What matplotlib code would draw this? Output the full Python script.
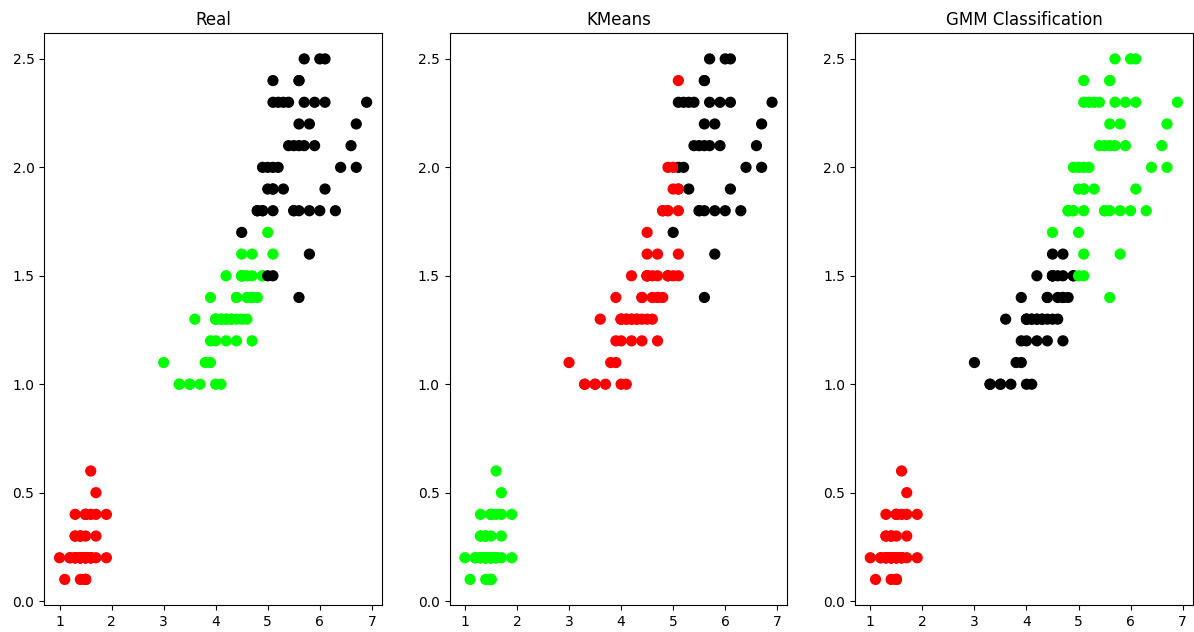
import numpy as np
import matplotlib
matplotlib.use("Agg")
import matplotlib.pyplot as plt

# Iris petal measurements (rows 1-150)
petal_length = [
    1.4, 1.4, 1.3, 1.5, 1.4, 1.7, 1.4, 1.5, 1.4, 1.5, 1.5, 1.6, 1.4, 1.1, 1.2, 1.5, 1.3, 1.4, 1.7, 1.5, 1.7, 1.5, 1.0, 1.7, 1.9,
    1.6, 1.6, 1.5, 1.4, 1.6, 1.6, 1.5, 1.5, 1.4, 1.5, 1.2, 1.3, 1.5, 1.3, 1.5, 1.3, 1.3, 1.3, 1.6, 1.9, 1.4, 1.6, 1.4, 1.5, 1.4,
    4.7, 4.5, 4.9, 4.0, 4.6, 4.5, 4.7, 3.3, 4.6, 3.9, 3.5, 4.2, 4.0, 4.7, 3.6, 4.4, 4.5, 4.1, 4.5, 3.9, 4.8, 4.0, 4.9, 4.7, 4.3,
    4.4, 4.8, 5.0, 4.5, 3.5, 3.8, 3.7, 3.9, 5.1, 4.5, 4.5, 4.7, 4.4, 4.1, 4.0, 4.4, 4.6, 4.0, 3.3, 4.2, 4.2, 4.2, 4.3, 3.0, 4.1,
    6.0, 5.1, 5.9, 5.6, 5.8, 6.6, 4.5, 6.3, 5.8, 6.1, 5.1, 5.3, 5.5, 5.0, 5.1, 5.3, 5.5, 6.7, 6.9, 5.0, 5.7, 4.9, 6.7, 4.9, 5.7,
    6.0, 4.8, 4.9, 5.6, 5.8, 6.1, 6.4, 5.6, 5.1, 5.6, 6.1, 5.6, 5.5, 4.8, 5.4, 5.6, 5.1, 5.1, 5.9, 5.7, 5.2, 5.0, 5.2, 5.4, 5.1,
]
petal_width = [
    0.2, 0.2, 0.2, 0.2, 0.2, 0.4, 0.3, 0.2, 0.2, 0.1, 0.2, 0.2, 0.1, 0.1, 0.2, 0.4, 0.4, 0.3, 0.3, 0.3, 0.2, 0.4, 0.2, 0.5, 0.2,
    0.2, 0.4, 0.2, 0.2, 0.2, 0.2, 0.4, 0.1, 0.2, 0.1, 0.2, 0.2, 0.1, 0.2, 0.2, 0.3, 0.3, 0.2, 0.6, 0.4, 0.3, 0.2, 0.2, 0.2, 0.2,
    1.4, 1.5, 1.5, 1.3, 1.5, 1.3, 1.6, 1.0, 1.3, 1.4, 1.0, 1.5, 1.0, 1.4, 1.3, 1.4, 1.5, 1.0, 1.5, 1.1, 1.8, 1.3, 1.5, 1.2, 1.3,
    1.4, 1.4, 1.7, 1.5, 1.0, 1.1, 1.0, 1.2, 1.6, 1.5, 1.6, 1.5, 1.3, 1.3, 1.3, 1.2, 1.4, 1.2, 1.0, 1.3, 1.2, 1.3, 1.3, 1.1, 1.3,
    2.5, 1.9, 2.1, 1.8, 2.2, 2.1, 1.7, 1.8, 1.8, 2.5, 2.0, 1.9, 2.1, 2.0, 2.4, 2.3, 1.8, 2.2, 2.3, 1.5, 2.3, 2.0, 2.0, 1.8, 2.1,
    1.8, 1.8, 1.8, 2.1, 1.6, 1.9, 2.0, 2.2, 1.5, 1.4, 2.3, 2.4, 1.8, 1.8, 2.1, 2.4, 2.3, 1.9, 2.3, 2.5, 2.3, 1.9, 2.0, 2.3, 1.8,
]

real_labels = [
    0, 0, 0, 0, 0, 0, 0, 0, 0, 0, 0, 0, 0, 0, 0, 0, 0, 0, 0, 0, 0, 0, 0, 0, 0,
    0, 0, 0, 0, 0, 0, 0, 0, 0, 0, 0, 0, 0, 0, 0, 0, 0, 0, 0, 0, 0, 0, 0, 0, 0,
    1, 1, 1, 1, 1, 1, 1, 1, 1, 1, 1, 1, 1, 1, 1, 1, 1, 1, 1, 1, 1, 1, 1, 1, 1,
    1, 1, 1, 1, 1, 1, 1, 1, 1, 1, 1, 1, 1, 1, 1, 1, 1, 1, 1, 1, 1, 1, 1, 1, 1,
    2, 2, 2, 2, 2, 2, 2, 2, 2, 2, 2, 2, 2, 2, 2, 2, 2, 2, 2, 2, 2, 2, 2, 2, 2,
    2, 2, 2, 2, 2, 2, 2, 2, 2, 2, 2, 2, 2, 2, 2, 2, 2, 2, 2, 2, 2, 2, 2, 2, 2,
]
kmeans_labels = [
    1, 1, 1, 1, 1, 1, 1, 1, 1, 1, 1, 1, 1, 1, 1, 1, 1, 1, 1, 1, 1, 1, 1, 1, 1,
    1, 1, 1, 1, 1, 1, 1, 1, 1, 1, 1, 1, 1, 1, 1, 1, 1, 1, 1, 1, 1, 1, 1, 1, 1,
    0, 0, 2, 0, 0, 0, 0, 0, 0, 0, 0, 0, 0, 0, 0, 0, 0, 0, 0, 0, 0, 0, 0, 0, 0,
    0, 0, 2, 0, 0, 0, 0, 0, 0, 0, 0, 0, 0, 0, 0, 0, 0, 0, 0, 0, 0, 0, 0, 0, 0,
    2, 0, 2, 2, 2, 2, 0, 2, 2, 2, 2, 2, 2, 0, 0, 2, 2, 2, 2, 0, 2, 0, 2, 0, 2,
    2, 0, 0, 2, 2, 2, 2, 2, 0, 2, 2, 2, 2, 0, 2, 2, 2, 0, 2, 2, 2, 0, 2, 2, 0,
]
gmm_labels = [
    0, 0, 0, 0, 0, 0, 0, 0, 0, 0, 0, 0, 0, 0, 0, 0, 0, 0, 0, 0, 0, 0, 0, 0, 0,
    0, 0, 0, 0, 0, 0, 0, 0, 0, 0, 0, 0, 0, 0, 0, 0, 0, 0, 0, 0, 0, 0, 0, 0, 0,
    2, 2, 2, 2, 2, 2, 2, 2, 2, 2, 2, 2, 2, 2, 2, 2, 2, 2, 2, 2, 1, 2, 2, 2, 2,
    2, 2, 1, 2, 2, 2, 2, 2, 1, 2, 2, 2, 2, 2, 2, 2, 2, 2, 2, 2, 2, 2, 2, 2, 2,
    1, 1, 1, 1, 1, 1, 1, 1, 1, 1, 1, 1, 1, 1, 1, 1, 1, 1, 1, 1, 1, 1, 1, 1, 1,
    1, 1, 1, 1, 1, 1, 1, 1, 1, 1, 1, 1, 1, 1, 1, 1, 1, 1, 1, 1, 1, 1, 1, 1, 1,
]

titles = ["Real", "KMeans", "GMM Classification"]
colormap = np.array(["red", "lime", "black"])


def main():
    fig, axes = plt.subplots(1, 3, figsize=(11.94, 6.32), dpi=100)
    fig.subplots_adjust(left=0.037, right=0.999, top=0.948, bottom=0.042, wspace=0.2)

    # One panel per labelling
    for ax, labels, title in zip(axes, [real_labels, kmeans_labels, gmm_labels], titles):
        ax.scatter(petal_length, petal_width, c=colormap[np.array(labels)], s=50)
        ax.set_title(title)

    fig.savefig("out.png", dpi=100)


if __name__ == "__main__":
    main()
